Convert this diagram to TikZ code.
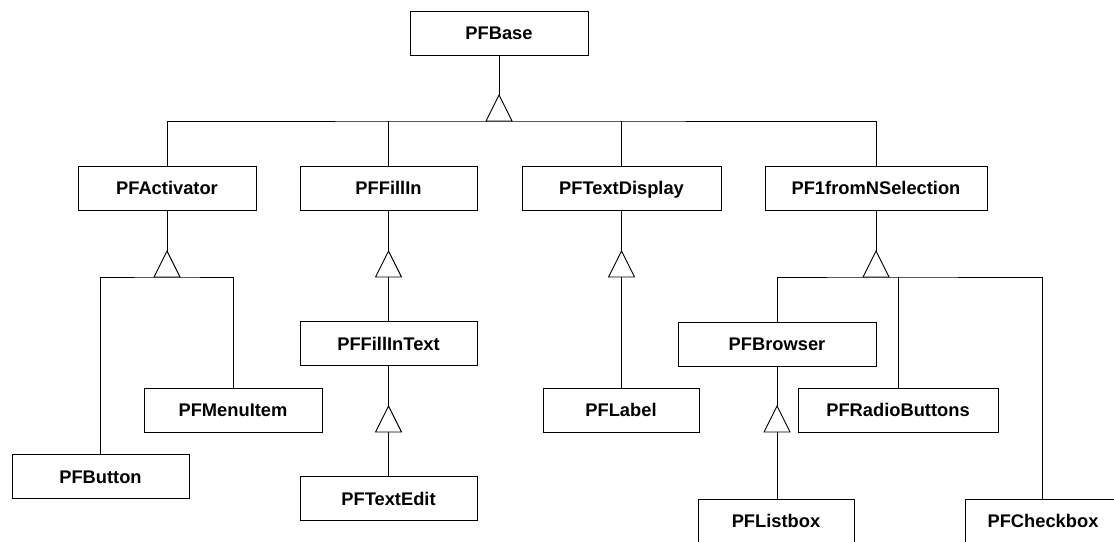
\documentclass[tikz,border=0pt]{standalone}
\usepackage{fontspec}
\setmainfont{Liberation Sans}
\usetikzlibrary{calc}
\tikzset{
  cls/.style={draw, line width=0.9pt, minimum height=44pt, inner sep=0pt,
    text height=13.1pt, text depth=0pt,
    font=\bfseries\fontsize{18.3}{22}\selectfont},
  link/.style={line width=0.9pt},
  tri/.style={draw, fill=white, line width=0.9pt, line join=miter},
}
% open inheritance triangle: base centred on #1, apex 26 units above
\newcommand{\genarrow}[1]{%
  \draw[tri] ($(#1)+(-13,0)$) -- ($(#1)+(0,-26)$) -- ($(#1)+(13,0)$) -- cycle;}
\begin{document}
\begin{tikzpicture}[x=1pt,y=-1pt]
\useasboundingbox (0,0) rectangle (1114,541);
\clip (0,0) rectangle (1114,541);

% classes
\node[cls, minimum width=178pt] (base)    at (499,33)    {PFBase};
\node[cls, minimum width=178pt] (act)     at (167,188)   {PFActivator};
\node[cls, minimum width=177pt] (fill)    at (388.5,188) {PFFillIn};
\node[cls, minimum width=199pt] (tdisp)   at (621.5,188) {PFTextDisplay};
\node[cls, minimum width=222pt] (sel)     at (876,188)   {PF1fromNSelection};
\node[cls, minimum width=178pt] (menu)    at (233,410)   {PFMenuItem};
\node[cls, minimum width=177pt] (button)  at (100.5,476.5) {PFButton};
\node[cls, minimum width=177pt] (fillt)   at (388.5,343.5) {PFFillInText};
\node[cls, minimum width=177pt] (tedit)   at (388.5,498.5) {PFTextEdit};
\node[cls, minimum width=156pt] (label)   at (621,410)   {PFLabel};
\node[cls, minimum width=198pt] (browser) at (777,344)   {PFBrowser};
\node[cls, minimum width=200pt] (radio)   at (898,410)   {PFRadioButtons};
\node[cls, minimum width=156pt] (listbox) at (776,521)   {PFListbox};
\node[cls, minimum width=156pt] (checkbox) at (1043,521) {PFCheckbox};

% junction points (triangle base centres)
\coordinate (g0) at (499,121);
\coordinate (g1) at (167,277);
\coordinate (g2) at (388.5,277);
\coordinate (g3) at (388.5,432);
\coordinate (g4) at (621.5,277);
\coordinate (g5) at (876,277);
\coordinate (g6) at (777,432);

% PFBase hierarchy
\draw[link] (base.south) -- ($(g0)+(0,-26)$);
\draw[link] (act.north) |- (g0) -| (sel.north);
\draw[link] (fill.north) -- (fill.north |- g0);
\draw[link] (tdisp.north) -- (tdisp.north |- g0);
\genarrow{g0}

% PFActivator
\draw[link] (act.south) -- ($(g1)+(0,-26)$);
\draw[link] ([xshift=-0.5pt]button.north) |- (g1) -| (menu.north);
\genarrow{g1}

% PFFillIn
\draw[link] (fill.south) -- ($(g2)+(0,-26)$);
\draw[link] (fillt.north) -- (g2);
\genarrow{g2}
\draw[link] (fillt.south) -- ($(g3)+(0,-26)$);
\draw[link] (tedit.north) -- (g3);
\genarrow{g3}

% PFTextDisplay
\draw[link] (tdisp.south) -- ($(g4)+(0,-26)$);
\draw[link] (label.north -| g4) -- (g4);
\genarrow{g4}

% PF1fromNSelection
\draw[link] (sel.south) -- ($(g5)+(0,-26)$);
\draw[link] (browser.north) |- (g5) -| ([xshift=-1pt]checkbox.north);
\draw[link] (radio.north) -- (radio.north |- g5);
\genarrow{g5}

% PFBrowser
\draw[link] (browser.south) -- ($(g6)+(0,-26)$);
\draw[link] (listbox.north -| g6) -- (g6);
\genarrow{g6}
\end{tikzpicture}
\end{document}
